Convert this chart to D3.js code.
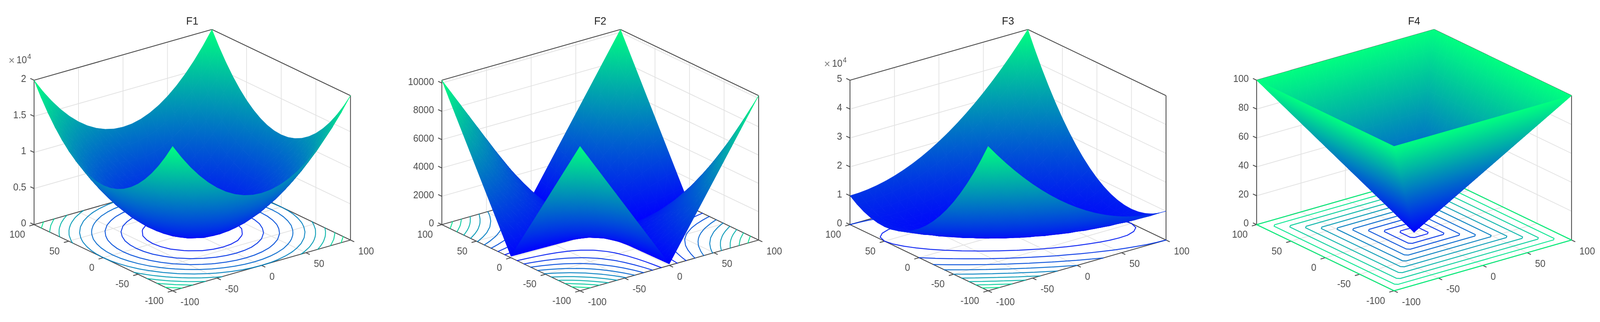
<!DOCTYPE html>
<html><head><meta charset="utf-8">
<script src="https://cdn.jsdelivr.net/npm/d3@7"></script>
<style>html,body{margin:0;background:#fff;overflow:hidden}svg{display:block;width:100vw;height:100vh;filter:blur(0.6px)}text{font-family:"Liberation Sans",Arial,sans-serif}</style>
</head><body><svg id="chart" viewBox="0 0 4273 825" preserveAspectRatio="none"></svg>
<script>
// ---- data ----
const panelNames = ["F1","F2","F3","F4"];
const gridSteps = [0,10,20,30,40,50,60,70,80,90,100];
const axisTicks = [-100,-50,0,50,100];
// F1 surface height, in hundreds, for |x| (rows) and |y| (columns)
const f1Quarter = [
[0,1,4,9,16,25,36,49,64,81,100],
[1,2,5,10,17,26,37,50,65,82,101],
[4,5,8,13,20,29,40,53,68,85,104],
[9,10,13,18,25,34,45,58,73,90,109],
[16,17,20,25,32,41,52,65,80,97,116],
[25,26,29,34,41,50,61,74,89,106,125],
[36,37,40,45,52,61,72,85,100,117,136],
[49,50,53,58,65,74,85,98,113,130,149],
[64,65,68,73,80,89,100,113,128,145,164],
[81,82,85,90,97,106,117,130,145,162,181],
[100,101,104,109,116,125,136,149,164,181,200]];
// F2 surface height for |x| (rows) and |y| (columns)
const f2Quarter = [
[0,10,20,30,40,50,60,70,80,90,100],
[10,120,230,340,450,560,670,780,890,1000,1110],
[20,230,440,650,860,1070,1280,1490,1700,1910,2120],
[30,340,650,960,1270,1580,1890,2200,2510,2820,3130],
[40,450,860,1270,1680,2090,2500,2910,3320,3730,4140],
[50,560,1070,1580,2090,2600,3110,3620,4130,4640,5150],
[60,670,1280,1890,2500,3110,3720,4330,4940,5550,6160],
[70,780,1490,2200,2910,3620,4330,5040,5750,6460,7170],
[80,890,1700,2510,3320,4130,4940,5750,6560,7370,8180],
[90,1000,1910,2820,3730,4640,5550,6460,7370,8280,9190],
[100,1110,2120,3130,4140,5150,6160,7170,8180,9190,10200]];
// F3 surface height, in hundreds: rows x=-100..0, columns y=-100..100 (point-symmetric about the centre)
const f3HalfRows = [
[500,442,388,338,292,250,212,178,148,122,100,82,68,58,52,50,52,58,68,82,100],
[461,405,353,305,261,221,185,153,125,101,81,65,53,45,41,41,45,53,65,81,101],
[424,370,320,274,232,194,160,130,104,82,64,50,40,34,32,34,40,50,64,82,104],
[389,337,289,245,205,169,137,109,85,65,49,37,29,25,25,29,37,49,65,85,109],
[356,306,260,218,180,146,116,90,68,50,36,26,20,18,20,26,36,50,68,90,116],
[325,277,233,193,157,125,97,73,53,37,25,17,13,13,17,25,37,53,73,97,125],
[296,250,208,170,136,106,80,58,40,26,16,10,8,10,16,26,40,58,80,106,136],
[269,225,185,149,117,89,65,45,29,17,9,5,5,9,17,29,45,65,89,117,149],
[244,202,164,130,100,74,52,34,20,10,4,2,4,10,20,34,52,74,100,130,164],
[221,181,145,113,85,61,41,25,13,5,1,1,5,13,25,41,61,85,113,145,181],
[200,162,128,98,72,50,32,18,8,2,0,2,8,18,32,50,72,98,128,162,200]];
// F4 surface height for |x| (rows) and |y| (columns)
const f4Quarter = [
[0,10,20,30,40,50,60,70,80,90,100],
[10,10,20,30,40,50,60,70,80,90,100],
[20,20,20,30,40,50,60,70,80,90,100],
[30,30,30,30,40,50,60,70,80,90,100],
[40,40,40,40,40,50,60,70,80,90,100],
[50,50,50,50,50,50,60,70,80,90,100],
[60,60,60,60,60,60,60,70,80,90,100],
[70,70,70,70,70,70,70,70,80,90,100],
[80,80,80,80,80,80,80,80,80,90,100],
[90,90,90,90,90,90,90,90,90,90,100],
[100,100,100,100,100,100,100,100,100,100,100]];
const f1Levels = [2000,4000,6000,8000,10000,12000,14000,16000,18000];
const f2Levels = [1000,2000,3000,4000,5000,6000,7000,8000,9000];
const f3Levels = [5000,10000,15000,20000,25000,30000,35000,40000,45000];
const f4Rings = [10,20,30,40,50,60,70,80,90,100];
const f1ZTicks = [0,5000,10000,15000,20000];
const f2ZTicks = [0,2000,4000,6000,8000,10000];
const f3ZTicks = [0,10000,20000,30000,40000,50000];
const f4ZTicks = [0,20,40,60,80,100];
const zMaxima = [20000,10200,50000,100];

// ---- tables on the full grid ----
const axisGrid = gridSteps.slice(1).reverse().map(v=>-v).concat(gridSteps);
const idx = v => Math.abs(v)/10;
const fromQuarter = (q,k) => axisGrid.map(x=>axisGrid.map(y=>q[idx(x)][idx(y)]*k));
const f3Full = axisGrid.map((x,i)=>axisGrid.map((y,j)=> (i<=10 ? f3HalfRows[i][j] : f3HalfRows[20-i][20-j])*100));
const tables = [fromQuarter(f1Quarter,100),fromQuarter(f2Quarter,1),f3Full,fromQuarter(f4Quarter,1)];

// ---- layout ----
const layouts = [
 {L:91, R:936, F:461, mult:{x:31,y:156}},
 {L:1180,R:2026,F:1549},
 {L:2270,R:3114,F:2639, mult:{x:2209,y:165}},
 {L:3356,R:4197,F:3723}
];
const yL=575.5, yR=615, yF=745, zPx=370;
const levelSets=[f1Levels,f2Levels,f3Levels,null];
const zTickSets=[f1ZTicks,f2ZTicks,f3ZTicks,f4ZTicks];
const zFormats=[v=>v/1e4,v=>v,v=>v/1e4,v=>v];

const svg=d3.select("#chart");
const defs=svg.append("defs");
const blue="rgb(0,0,255)", green="rgb(0,255,128)";
const tickFrac=0.027;

panelNames.forEach((name,pi)=>{
  const lay=layouts[pi], table=tables[pi], zMax=zMaxima[pi];
  const uScale=d3.scaleLinear([-100,100],[0,1]);
  const vScale=d3.scaleLinear([-100,100],[0,1]);
  const zScale=d3.scaleLinear([0,zMax],[0,zPx]);
  const color=d3.scaleLinear([0,zMax],[blue,green]).interpolate(d3.interpolateRgb);
  const project=(x,y,z)=>{
    const u=uScale(x), v=vScale(y);
    return [lay.F+u*(lay.R-lay.F)+v*(lay.L-lay.F), yF+u*(yR-yF)+v*(yL-yF)-zScale(z)];
  };
  const g=svg.append("g").attr("class","panel-"+name);
  const seg=(sel,data,cls,stroke,w)=>sel.selectAll("line."+cls).data(data).join("line").attr("class",cls)
     .attr("x1",d=>d[0][0]).attr("y1",d=>d[0][1]).attr("x2",d=>d[1][0]).attr("y2",d=>d[1][1])
     .attr("stroke",stroke).attr("stroke-width",w);
  const zTicks=zTickSets[pi];
  // grid
  const grid=[];
  axisTicks.slice(1,4).forEach(t=>{
    grid.push([project(t,100,0),project(t,100,zMax)]);   // back-left wall verticals
    grid.push([project(100,t,0),project(100,t,zMax)]);   // back-right wall verticals
    grid.push([project(t,-100,0),project(t,100,0)]);     // floor
    grid.push([project(-100,t,0),project(100,t,0)]);
  });
  zTicks.forEach(z=>{ if(z>0&&z<zMax*0.99){
    grid.push([project(-100,100,z),project(100,100,z)]);
    grid.push([project(100,100,z),project(100,-100,z)]);
  }});
  seg(g,grid,"grid","#e2e2e2",1.9);
  // box
  const box=[
    [project(-100,100,zMax),project(100,100,zMax)],
    [project(100,100,zMax),project(100,-100,zMax)],
    [project(-100,100,0),project(-100,100,zMax)],
    [project(100,-100,0),project(100,-100,zMax)],
    [project(-100,100,0),project(-100,-100,0)],
    [project(-100,-100,0),project(100,-100,0)],
    [project(-100,100,0),project(100,100,0)],
    [project(100,100,0),project(100,-100,0)]
  ];
  // ticks
  zTicks.forEach(z=>box.push([project(-100,100,z),project(-100,100+200*tickFrac,z)]));
  axisTicks.forEach(t=>{
    box.push([project(t,-100,0),project(t,-100-200*tickFrac,0)]);
    box.push([project(-100,t,0),project(-100-200*tickFrac,t,0)]);
  });
  seg(g,box,"box","#4a4a4a",2.2);

  // contours
  const cg=g.append("g").attr("fill","none").attr("stroke-width",2.5).attr("stroke-opacity",0.9).attr("stroke-linecap","round").attr("stroke-linejoin","round");
  if(levelSets[pi]){
    const cross=(a,b,va,vb,L)=>{const t=(L-va)/(vb-va);return [a[0]+(b[0]-a[0])*t,a[1]+(b[1]-a[1])*t];};
    cg.selectAll("path").data(levelSets[pi]).join("path")
      .attr("stroke",d=>color(d))
      .attr("d",L=>{
        const p=d3.path();
        for(let i=0;i<20;i++)for(let j=0;j<20;j++){
          const c=[[axisGrid[i],axisGrid[j],table[i][j]],[axisGrid[i+1],axisGrid[j],table[i+1][j]],
                   [axisGrid[i+1],axisGrid[j+1],table[i+1][j+1]],[axisGrid[i],axisGrid[j+1],table[i][j+1]]];
          const pts=[];
          for(let k=0;k<4;k++){const a=c[k],b=c[(k+1)%4];
            if((a[2]>=L)!==(b[2]>=L)) pts.push(cross(a,b,a[2],b[2],L));}
          for(let k=0;k+1<pts.length;k+=2){
            const s=project(pts[k][0],pts[k][1],0), e=project(pts[k+1][0],pts[k+1][1],0);
            p.moveTo(s[0],s[1]);p.lineTo(e[0],e[1]);
          }
        }
        return p.toString();
      });
  } else {
    const ringLine=d3.line().curve(d3.curveLinearClosed);
    cg.selectAll("path").data(f4Rings).join("path")
      .attr("stroke",d=>color(d))
      .attr("d",h=>{
        const c=h<100?2.5:0;
        return ringLine([[-h+c,-h],[h-c,-h],[h,-h+c],[h,h-c],[h-c,h],[-h+c,h],[-h,h-c],[-h,-h+c]].map(q=>project(q[0],q[1],0)));
      });
  }

  // surface
  const tris=[];
  for(let i=19;i>=0;i--)for(let j=19;j>=0;j--){
    const P=(a,b)=>({x:axisGrid[a],y:axisGrid[b],z:table[a][b]});
    const a=P(i,j),b=P(i+1,j),c=P(i+1,j+1),d=P(i,j+1);
    if(Math.abs(a.z-c.z)>=Math.abs(b.z-d.z)){ tris.push([a,b,c]); tris.push([a,c,d]); }
    else { tris.push([b,c,d]); tris.push([a,b,d]); }
  }
  const shaded=tris.map((t,k)=>{
    const s=t.map(q=>({z:q.z,p:project(q.x,q.y,q.z)})).sort((m,n)=>m.z-n.z);
    const A=s[0],B=s[1],C=s[2];
    const bx=B.p[0]-A.p[0],by=B.p[1]-A.p[1],cx=C.p[0]-A.p[0],cy=C.p[1]-A.p[1];
    const zb=B.z-A.z,zc=C.z-A.z,det=bx*cy-cx*by;
    const pts=t.map(q=>project(q.x,q.y,q.z));
    if(zc===0||Math.abs(det)<1e-6) return {pts,paint:color((A.z+C.z)/2)};
    const gx=(zb*cy-zc*by)/det, gy=(zc*bx-zb*cx)/det, n=gx*gx+gy*gy;
    return {pts,id:`g${pi}_${k}`,x1:A.p[0],y1:A.p[1],x2:A.p[0]+gx*zc/n,y2:A.p[1]+gy*zc/n,c1:color(A.z),c2:color(C.z)};
  });
  const lg=defs.selectAll(`linearGradient.s${pi}`).data(shaded.filter(d=>d.id)).join("linearGradient")
    .attr("class","s"+pi).attr("id",d=>d.id).attr("gradientUnits","userSpaceOnUse")
    .attr("x1",d=>d.x1).attr("y1",d=>d.y1).attr("x2",d=>d.x2).attr("y2",d=>d.y2);
  lg.append("stop").attr("offset",0).attr("stop-color",d=>d.c1);
  lg.append("stop").attr("offset",1).attr("stop-color",d=>d.c2);
  g.append("g").attr("stroke-width",0.9).attr("stroke-linejoin","round").selectAll("polygon").data(shaded).join("polygon")
    .attr("points",d=>d.pts.map(p=>p.join(",")).join(" "))
    .attr("fill",d=>d.id?`url(#${d.id})`:d.paint)
    .attr("stroke",d=>d.id?`url(#${d.id})`:d.paint);

  // labels
  const labels=g.append("g").attr("fill","#4d4d4d").attr("font-size",25);
  labels.selectAll("text.z").data(zTicks).join("text").attr("class","z")
    .attr("text-anchor","end").attr("dy","0.35em")
    .attr("x",d=>project(-100,100,d)[0]-21).attr("y",d=>project(-100,100,d)[1]-4)
    .text(d=>zFormats[pi](d));
  labels.selectAll("text.y").data(axisTicks).join("text").attr("class","y")
    .attr("text-anchor","end").attr("dy","0.35em")
    .attr("x",d=>project(-100,d,0)[0]-24).attr("y",d=>project(-100,d,0)[1]+25)
    .text(d=>d);
  labels.selectAll("text.x").data(axisTicks).join("text").attr("class","x")
    .attr("text-anchor","start").attr("dy","0.35em")
    .attr("x",d=>project(d,-100,0)[0]+21).attr("y",d=>project(d,-100,0)[1]+28)
    .text(d=>d);
  g.append("text").attr("text-anchor","middle").attr("font-size",28).attr("fill","#262626")
    .attr("x",(lay.L+lay.R)/2).attr("y",63).text(name);
  if(lay.mult){
    const m=g.append("g").attr("fill","#4d4d4d");
    m.append("text").attr("x",lay.mult.x-8).attr("y",lay.mult.y+8).attr("font-size",28).attr("fill","#808080").text("×");
    m.append("text").attr("x",lay.mult.x+13).attr("y",lay.mult.y+6).attr("font-size",25).text("10");
    m.append("text").attr("x",lay.mult.x+42).attr("y",lay.mult.y-5).attr("font-size",18).text("4");
  }
});
</script></body></html>
